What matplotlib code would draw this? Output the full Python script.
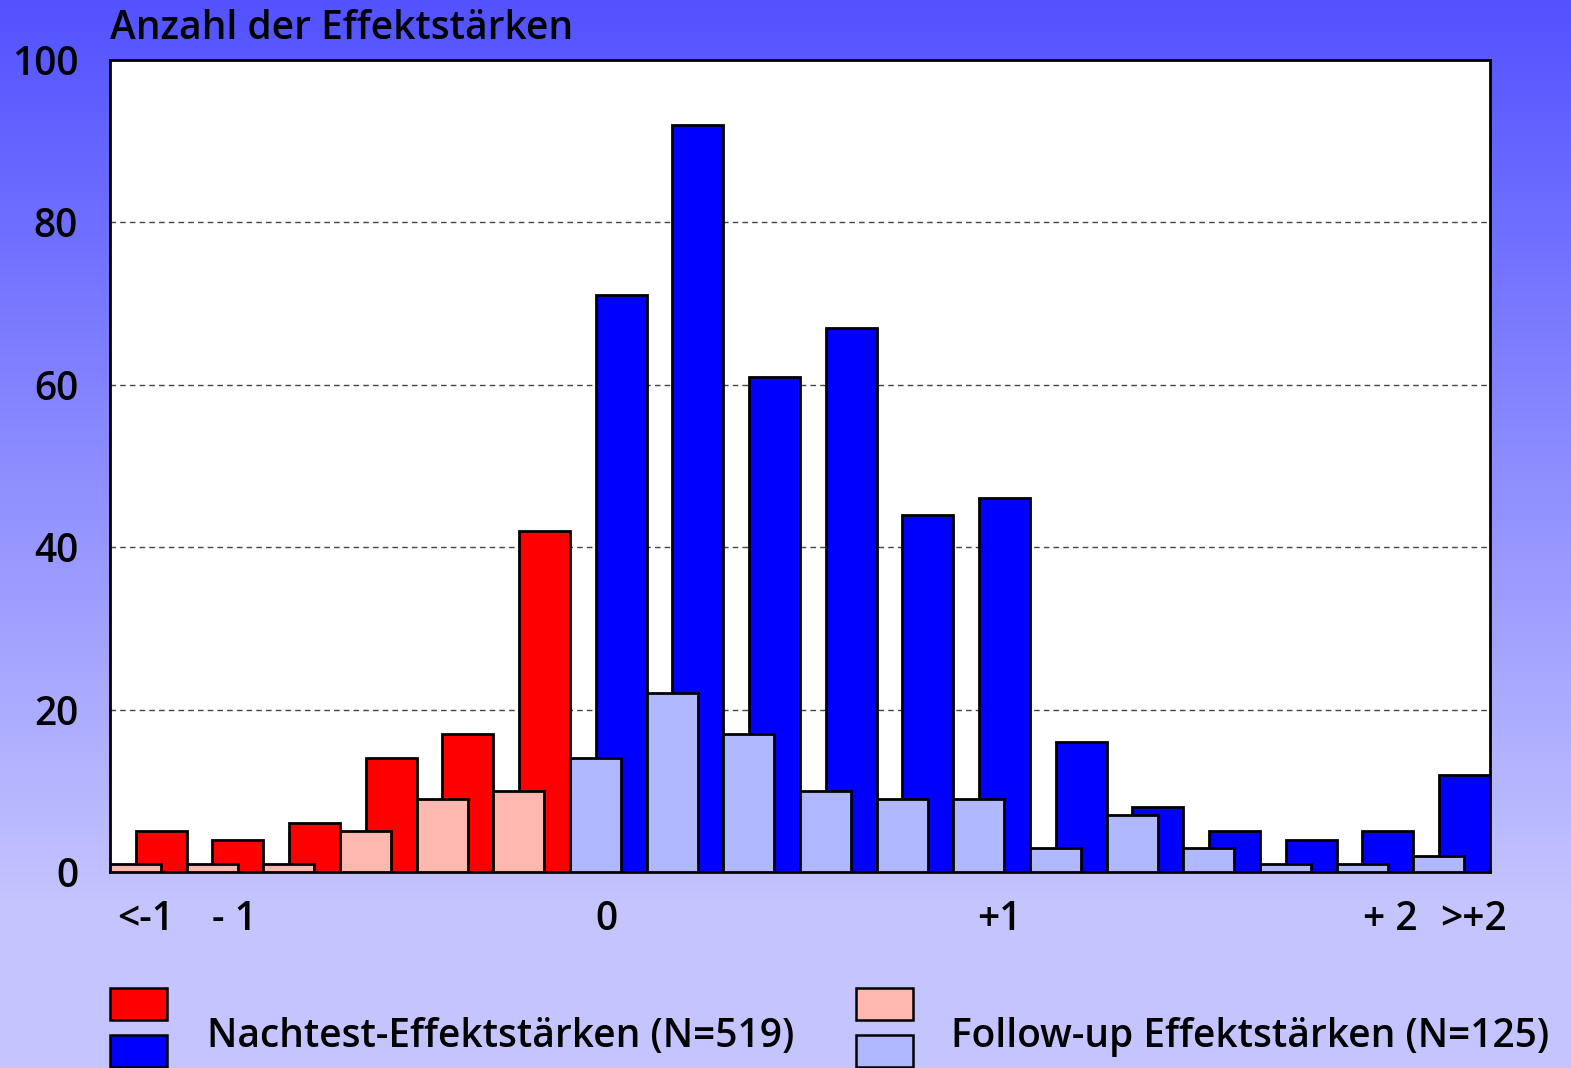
import numpy as np
import matplotlib
matplotlib.use("Agg")
import matplotlib.pyplot as plt
from matplotlib.patches import Rectangle

plt.rcParams['font.family'] = ['Open Sans', 'DejaVu Sans']

# Anzahl je Effektstärken-Klasse (18 Klassen von <-1 bis >+2)
nachtest = [5, 4, 6, 14, 17, 42, 71, 92, 61, 67, 44, 46, 16, 8, 5, 4, 5, 12]
follow_up = [1, 1, 1, 5, 9, 10, 14, 22, 17, 10, 9, 9, 3, 7, 3, 1, 1, 2]
n_negativ = 6  # erste 6 Klassen sind negative Effekte

x_labels = ["<-1", "- 1", "0", "+1", "+ 2", ">+2"]
x_label_pos = [0.46, 1.62, 6.48, 11.6, 16.7, 17.78]
y_ticks = [0, 20, 40, 60, 80, 100]

rot, blau = "#ff0000", "#0000ff"
rosa, hellblau = "#ffb8b0", "#b0b8ff"

fig = plt.figure(figsize=(15.71, 10.68), dpi=100)

# Hintergrund-Verlauf
bg = fig.add_axes([0, 0, 1, 1], zorder=-10)
h = 1068
rows = np.arange(h)
t = np.clip(rows / 900.0, 0, 1)
grad = np.zeros((h, 2, 3))
grad[:, :, 0] = (82 + t * (196 - 82))[:, None] / 255
grad[:, :, 1] = (82 + t * (196 - 82))[:, None] / 255
grad[:, :, 2] = 1.0
bg.imshow(grad, aspect="auto", extent=[0, 1, 0, 1], origin="upper")
bg.axis("off")

ax = fig.add_axes([110 / 1571, 1 - 872 / 1068, 1380 / 1571, 812 / 1068])
ax.set_facecolor("white")

x = np.arange(len(nachtest))
farben_n = [rot if i < n_negativ else blau for i in x]
farben_f = [rosa if i < n_negativ else hellblau for i in x]

ax.bar(x + 0.335, nachtest, width=0.665, align="edge", color=farben_n,
       edgecolor="black", linewidth=2, zorder=2)
ax.bar(x, follow_up, width=0.665, align="edge", color=farben_f,
       edgecolor="black", linewidth=2, zorder=3)

ax.set_xlim(0, len(nachtest))
ax.set_ylim(0, 100)
ax.set_yticks(y_ticks)
ax.set_yticklabels([str(v) for v in y_ticks], fontsize=28, fontweight="semibold")
ax.set_xticks(x_label_pos)
ax.set_xticklabels(x_labels, fontsize=28, fontweight="semibold")
ax.tick_params(length=0)
ax.tick_params(axis="x", pad=20)
ax.tick_params(axis="y", pad=23)
ax.yaxis.grid(True, linestyle=(0, (4, 3)), color="#444444", linewidth=1)
ax.set_axisbelow(True)
for s in ax.spines.values():
    s.set_linewidth(2)

fig.text(110 / 1571, 1 - 29 / 1068, "Anzahl der Effektstärken", fontsize=28,
         fontweight="semibold", va="center", ha="left")

# Legende
def box(x0, y0, farbe):
    fig.patches.append(Rectangle((x0 / 1571, 1 - (y0 + 32) / 1068), 57 / 1571, 32 / 1068,
                                 transform=fig.transFigure, facecolor=farbe,
                                 edgecolor="black", linewidth=1.8))

box(110, 988, rot)
box(110, 1035, blau)
box(856, 988, rosa)
box(856, 1035, hellblau)
fig.text(207 / 1571, 1 - 1037 / 1068, "Nachtest-Effektstärken (N=519)", fontsize=28,
         fontweight="semibold", va="center", ha="left")
fig.text(951 / 1571, 1 - 1037 / 1068, "Follow-up Effektstärken (N=125)", fontsize=28,
         fontweight="semibold", va="center", ha="left")

fig.savefig("out.png", dpi=100)
